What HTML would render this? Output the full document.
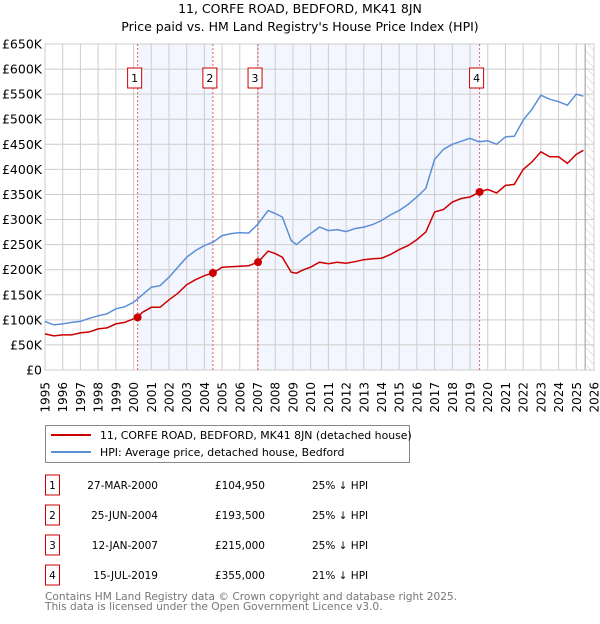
<!DOCTYPE html>
<html><head><meta charset="utf-8"><style>
body{margin:0;background:#fff;width:600px;height:620px;overflow:hidden;font-family:"DejaVu Sans","Liberation Sans",sans-serif;}
svg text{font-family:"DejaVu Sans","Liberation Sans",sans-serif;}
</style></head><body>
<svg id="chart" width="600" height="620" xmlns="http://www.w3.org/2000/svg">
<defs><pattern id="hatch" width="6" height="6" patternUnits="userSpaceOnUse" patternTransform="rotate(-45)"><line x1="0" y1="0" x2="0" y2="6" stroke="#ccc" stroke-width="1"/></pattern></defs>
<text x="300" y="13" text-anchor="middle" font-size="12.5">11, CORFE ROAD, BEDFORD, MK41 8JN</text>
<text x="300" y="31" text-anchor="middle" font-size="12.5">Price paid vs. HM Land Registry's House Price Index (HPI)</text>
<g id="plot"></g>
<rect x="45.5" y="425.5" width="364" height="37" fill="#fff" stroke="#888"/>
<line x1="51" y1="435" x2="91" y2="435" stroke="#cc0000" stroke-width="2"/>
<text x="100" y="439" font-size="10.9">11, CORFE ROAD, BEDFORD, MK41 8JN (detached house)</text>
<line x1="51" y1="452" x2="91" y2="452" stroke="#5b8fd6" stroke-width="2"/>
<text x="100" y="456" font-size="10.9">HPI: Average price, detached house, Bedford</text>
<g id="table"></g>
<text x="45" y="600" font-size="10.6" fill="#777">Contains HM Land Registry data © Crown copyright and database right 2025.</text>
<text x="45" y="610" font-size="10.6" fill="#777">This data is licensed under the Open Government Licence v3.0.</text>
</svg>
<script>
const hpiYears=[1995,1995.5,1996,1996.5,1997,1997.5,1998,1998.5,1999,1999.5,2000,2000.5,2001,2001.5,2002,2002.5,2003,2003.5,2004,2004.5,2005,2005.5,2006,2006.5,2007,2007.6,2008,2008.4,2008.9,2009.2,2009.6,2010,2010.5,2011,2011.5,2012,2012.5,2013,2013.5,2014,2014.5,2015,2015.5,2016,2016.5,2017,2017.5,2018,2018.5,2019,2019.5,2020,2020.5,2021,2021.5,2022,2022.5,2023,2023.5,2024,2024.5,2025,2025.4];
const hpiValues=[97,90,92,95,97,103,108,112,122,126,135,150,165,168,185,205,225,238,248,255,268,272,274,273,290,318,312,305,258,250,262,272,285,278,280,276,282,285,290,298,309,318,330,345,362,420,440,450,456,462,455,457,450,465,466,498,520,548,540,535,528,550,546];
const ppYears=[1995,1995.5,1996,1996.5,1997,1997.5,1998,1998.5,1999,1999.5,2000.23,2000.5,2001,2001.5,2002,2002.5,2003,2003.5,2004,2004.48,2005,2005.5,2006,2006.5,2007.03,2007.6,2008,2008.4,2008.9,2009.2,2009.6,2010,2010.5,2011,2011.5,2012,2012.5,2013,2013.5,2014,2014.5,2015,2015.5,2016,2016.5,2017,2017.5,2018,2018.5,2019,2019.54,2020,2020.5,2021,2021.5,2022,2022.5,2023,2023.5,2024,2024.5,2025,2025.4];
const ppValues=[72,68,70,70,74,76,82,84,92,95,105,115,125,125,140,153,170,180,188,193.5,205,206,207,208,215,237,232,225,195,193,200,205,215,212,215,213,216,220,222,223,230,240,248,260,275,315,320,335,342,345,355,360,353,368,370,400,415,435,425,425,412,430,438];
const saleYears=[2000.23,2004.48,2007.03,2019.54];
const saleValues=[104950,193500,215000,355000];
const saleLabels=["1","2","3","4"];
const saleDates=["27-MAR-2000","25-JUN-2004","12-JAN-2007","15-JUL-2019"];
const salePrices=["£104,950","£193,500","£215,000","£355,000"];
const saleHpi=["25% ↓ HPI","25% ↓ HPI","25% ↓ HPI","21% ↓ HPI"];
const yTicks=[0,50,100,150,200,250,300,350,400,450,500,550,600,650];
const yTickLabels=["£0","£50K","£100K","£150K","£200K","£250K","£300K","£350K","£400K","£450K","£500K","£550K","£600K","£650K"];
const xTicks=[1995,1996,1997,1998,1999,2000,2001,2002,2003,2004,2005,2006,2007,2008,2009,2010,2011,2012,2013,2014,2015,2016,2017,2018,2019,2020,2021,2022,2023,2024,2025,2026];

const NS="http://www.w3.org/2000/svg";
const X0=45,X1=594,Y0=370,Y1=44;
const xs=y=>X0+(y-1995)/(2026-1995)*(X1-X0);
const ys=v=>Y0-v/650*(Y0-Y1);
const plot=document.getElementById('plot');
function mk(tag,attrs,parent){const e=document.createElementNS(NS,tag);for(const k in attrs)e.setAttribute(k,attrs[k]);(parent||plot).appendChild(e);return e;}
mk('rect',{x:X0,y:Y1,width:X1-X0,height:Y0-Y1,fill:'#fff'});
for(let i=0;i<saleYears.length;i+=2){
  const r=mk('rect',{x:xs(saleYears[i]),y:Y1,width:xs(saleYears[i+1])-xs(saleYears[i]),height:Y0-Y1,fill:'#f3f6fe'});
  
  
}
const hx=xs(2025.5);
const h=mk('rect',{x:hx,y:Y1,width:X1-hx,height:Y0-Y1,fill:'url(#hatch)'});


yTicks.forEach((t,i)=>{
  mk('line',{x1:X0,x2:X1,y1:ys(t),y2:ys(t),stroke:'#ccc','stroke-width':1});
  const tx=mk('text',{x:X0-3,y:ys(t)+4.5,'text-anchor':'end','font-size':12.5});
  tx.textContent=yTickLabels[i];
  
  
});
xTicks.forEach(t=>{
  mk('line',{x1:xs(t),x2:xs(t),y1:Y1,y2:Y0,stroke:'#ccc','stroke-width':1});
  const tx=mk('text',{x:0,y:0,'text-anchor':'end','font-size':12,transform:`translate(${xs(t)+4.5},${Y0+12}) rotate(-90)`});
  tx.textContent=t;
  
  
});
mk('line',{x1:hx,y1:Y1,x2:hx,y2:Y0,stroke:'#999','stroke-width':1});
mk('rect',{x:X0,y:Y1,width:X1-X0,height:Y0-Y1,fill:'none',stroke:'#ccc'});
saleYears.forEach((y,i)=>{
  const l=mk('line',{x1:xs(y),x2:xs(y),y1:Y1,y2:Y0,stroke:'#e06060','stroke-width':1,'stroke-dasharray':'2,2'});
  
  
});
function line(xa,va,col,name){
  const d=xa.map((x,i)=>(i?'L':'M')+xs(x).toFixed(1)+','+ys(va[i]).toFixed(1)).join('');
  const p=mk('path',{d:d,fill:'none',stroke:col,'stroke-width':1.5});
  
  
}
line(hpiYears,hpiValues,'#5b8fd6','hpi-line');
line(ppYears,ppValues,'#cc0000','price-paid-line');
saleYears.forEach((y,i)=>{
  const c=mk('circle',{cx:xs(y),cy:ys(saleValues[i]/1000),r:4,fill:'#cc0000'});
  
  
  const r=mk('rect',{x:xs(y)-10,y:68,width:14,height:20,fill:'#fff',stroke:'#cc0000'});
  
  
  const t=mk('text',{x:xs(y)-3,y:82,'text-anchor':'middle','font-size':11});
  t.textContent=saleLabels[i];
});
const tb=document.getElementById('table');
const rowY=[485,515,545,575];
saleLabels.forEach((lab,i)=>{
  const g=mk('g',{},tb);
  
  
  mk('rect',{x:45.5,y:rowY[i]-10,width:14,height:20,fill:'#fff',stroke:'#cc0000'},g);
  const t1=mk('text',{x:52.5,y:rowY[i]+4,'text-anchor':'middle','font-size':10.5},g);t1.textContent=lab;
  const t2=mk('text',{x:158,y:rowY[i]+4,'text-anchor':'end','font-size':10.5},g);t2.textContent=saleDates[i];
  const t3=mk('text',{x:265,y:rowY[i]+4,'text-anchor':'end','font-size':10.5},g);t3.textContent=salePrices[i];
  const t4=mk('text',{x:312,y:rowY[i]+4,'font-size':10.5},g);t4.textContent=saleHpi[i];
});
</script>
</body></html>
